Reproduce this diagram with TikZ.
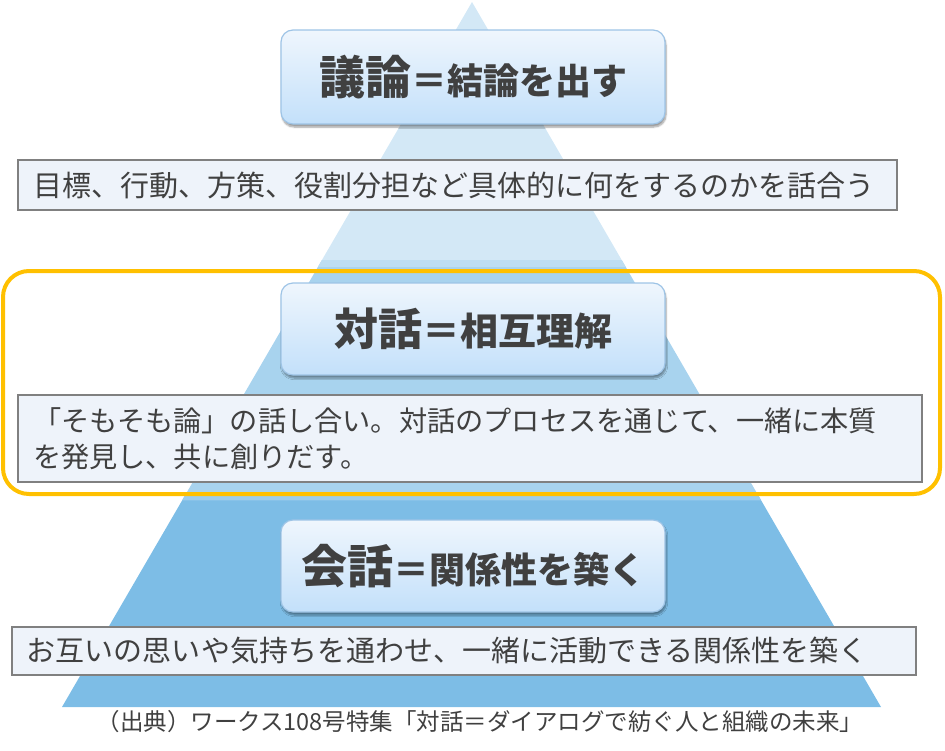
\documentclass[tikz,border=0pt]{standalone}
\usepackage{fontspec}
\newfontfamily\jpfont{Noto Sans CJK JP}
\usetikzlibrary{calc,shadows.blur}
\definecolor{bandtop}{HTML}{D3E8F6}
\definecolor{bandmid}{HTML}{A8D3EE}
\definecolor{bandlow}{HTML}{7DBDE6}
\definecolor{boxtop}{HTML}{EFF6FD}
\definecolor{boxbot}{HTML}{C3E0FA}
\definecolor{boxline}{HTML}{9EC4E6}
\definecolor{descfill}{HTML}{EEF3FA}
\definecolor{textgray}{HTML}{404040}
\definecolor{frameorange}{HTML}{FFC000}
\tikzset{
  band/.style  = {fill = #1, draw = none},
  title/.style = {draw = boxline, line width = 1.2pt, rounded corners = 12pt,
                  top color = boxtop, bottom color = boxbot,
                  minimum width = 384pt, minimum height = #1, inner sep = 0pt,
                  blur shadow = {shadow xshift = 1pt, shadow yshift = -3pt, shadow blur steps = 6},
                  text = textgray, font = \jpfont\bfseries},
  desc/.style  = {draw = gray, line width = 1.5pt, fill = descfill, text = textgray,
                  font = \jpfont\fontsize{29}{36}\selectfont, align = left,
                  text width = #1, inner xsep = 15pt, inner ysep = 0pt},
}

\begin{document}
\begin{tikzpicture}[x=1pt,y=-1pt]
  \useasboundingbox (0,0) rectangle (945,750);
% pyramid
  \coordinate (apex) at (472,2);
  \coordinate (bl) at (62,707);
  \coordinate (br) at (881,707);
  \fill[band=bandtop] (apex) -- ($(apex)!0.366!(bl)$) -- ($(apex)!0.366!(br)$) -- cycle;
  \fill[band=bandmid] ($(apex)!0.366!(bl)$) -- ($(apex)!0.697!(bl)$)
                   -- ($(apex)!0.697!(br)$) -- ($(apex)!0.366!(br)$) -- cycle;
  \fill[band=bandlow] ($(apex)!0.697!(bl)$) -- (bl) -- (br) -- ($(apex)!0.697!(br)$) -- cycle;
  \foreach \t/\c in {0.366/bandmid,0.697/bandlow}{
    \fill[band=\c!75!white] ($(apex)!\t!(bl)$) -- ($(apex)!\t+0.01!(bl)$)
                         -- ($(apex)!\t+0.01!(br)$) -- ($(apex)!\t!(br)$) -- cycle;
  }
% top level
  \node[title=94pt] (giron) at (473,77)
    {{\fontsize{46}{46}\selectfont 議論}{\fontsize{36}{36}\selectfont ＝結論を出す}};
  \node[desc=849pt, minimum height=50pt] (girondesc) at (457.5,185)
    {目標、行動、方策、役割分担など具体的に何をするのかを話合う};
% middle level
  \node[title=92pt] (taiwa) at (473,329)
    {{\fontsize{44}{44}\selectfont 対話}{\fontsize{38}{38}\selectfont ＝相互理解}};
  \node[desc=874pt, minimum height=87pt, font=\jpfont\fontsize{28.2}{36}\selectfont] (taiwadesc) at (470,438.5)
    {「そもそも論」の話し合い。対話のプロセスを通じて、一緒に本質\\を発見し、共に創りだす。};
% bottom level
  \node[title=92pt] (kaiwa) at (473,566)
    {{\fontsize{46}{46}\selectfont 会話}{\fontsize{36}{36}\selectfont ＝関係性を築く}};
  \node[desc=874pt, minimum height=48pt] (kaiwadesc) at (464,651)
    {お互いの思いや気持ちを通わせ、一緒に活動できる関係性を築く};
% highlight
  \draw[frameorange, line width=4pt, rounded corners=26pt] (3,271) rectangle (940,494);
% source
  \node[text=textgray, font=\jpfont\fontsize{23.5}{23.5}\selectfont] (source) at (480,722)
    {（出典）ワークス108号特集「対話＝ダイアログで紡ぐ人と組織の未来」};
\end{tikzpicture}
\end{document}
